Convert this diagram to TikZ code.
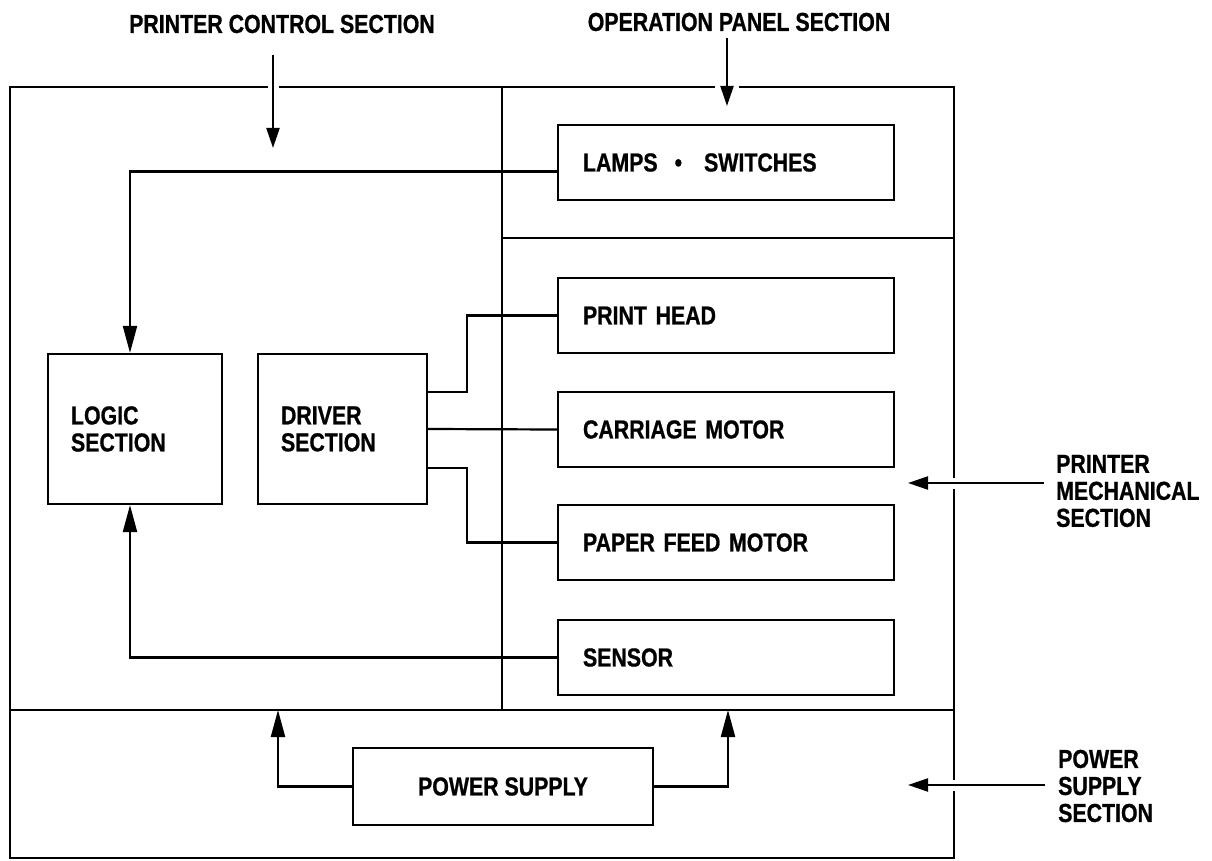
\documentclass[tikz,border=0pt]{standalone}
\usepackage{fontspec}
\setmainfont{Liberation Sans}[FakeStretch=0.82,BoldFeatures={FakeBold=0.8}]
\usetikzlibrary{arrows.meta,calc}
\begin{document}
\begin{tikzpicture}[x=1pt,y=-1pt,line width=2.4pt,
  every node/.style={font=\fontsize{26}{27}\selectfont\bfseries,inner sep=0pt},
  mbox/.style={draw,line width=2.2pt,minimum height=75pt,text width=#1,inner xsep=25pt,inner ysep=0pt,align=left},
  sbox/.style={draw,line width=2.2pt,minimum height=150pt,text width=#1,inner xsep=23pt,inner ysep=0pt,align=left},
  conn/.style={line width=2.2pt},
  tipA/.style={-{Triangle[length=20pt,width=13pt]}},
  tipB/.style={-{Triangle[length=27pt,width=14pt]}},
  whitegap/.style={preaction={draw=white,line width=#1,-}},
  whitegap/.default=11pt]
\useasboundingbox (0,0) rectangle (1212,861);

% frame
\draw (10,87) rectangle (954,858);
\draw (502,87) -- (502,710);
\draw (10,710) -- (954,710);
\draw (502,238) -- (954,238);

% section labels
\node (pcs) at (282,24) {PRINTER CONTROL SECTION};
\node (ops) at (739,22) {OPERATION PANEL SECTION};
\node (pms) [anchor=west,align=left] at (1055,491) {PRINTER\\MECHANICAL\\SECTION};
\node (pss) [anchor=west,align=left] at (1057,786) {POWER\\SUPPLY\\SECTION};

\coordinate (pcsA) at (273,55);
\coordinate (pcsB) at (273,148);
\coordinate (opsA) at (727,38);
\coordinate (opsB) at (727,106);
\coordinate (pmsA) at (1044,483);
\coordinate (pmsB) at (908,483);
\coordinate (pssA) at (1045,785);
\coordinate (pssB) at (908,785);

\draw[conn,tipA,whitegap] (pcsA) -- (pcsB);
\draw[conn,tipA,whitegap=24pt] (opsA) -- (opsB);
\draw[conn,tipA,whitegap] (pmsA) -- (pmsB);
\draw[conn,tipA,whitegap] (pssA) -- (pssB);

% boxes
\node[mbox=286pt] (lamps) at (726,162.5) {\raisebox{-5pt}{LAMPS\hspace{17pt}•\hspace{22pt}SWITCHES}};
\node[mbox=286pt] (head) at (726,315.5) {PRINT HEAD};
\node[mbox=286pt] (carr) at (726,429.5) {CARRIAGE MOTOR};
\node[mbox=286pt] (feed) at (726,542.5) {PAPER FEED MOTOR};
\node[mbox=286pt] (sens) at (726,657.5) {SENSOR};
\node[sbox=128pt] (logic) at (135,429) {LOGIC\\SECTION};
\node[sbox=123pt] (driver) at (342.5,429) {DRIVER\\SECTION};
\node[draw,line width=2.2pt,minimum width=300pt,minimum height=77pt] (power) at (503,786.5) {POWER SUPPLY};

% connectors
\draw[conn,tipB] ([yshift=-9pt]lamps.west) -| ([xshift=-5pt]logic.north);
\draw[conn,tipB] (sens.west) -| ([xshift=-5pt]logic.south);
\draw[conn] ([yshift=37pt]driver.east) -- ++(39,0) |- (head.west);
\draw[conn] (driver.east) -- (carr.west);
\draw[conn] ([yshift=-39pt]driver.east) -- ++(39,0) |- (feed.west);
\coordinate (pl) at (278,710);
\coordinate (pr) at (728,710);
\draw[conn,tipB] (power.west) -| (pl);
\draw[conn,tipB] (power.east) -| (pr);
\end{tikzpicture}
\end{document}
